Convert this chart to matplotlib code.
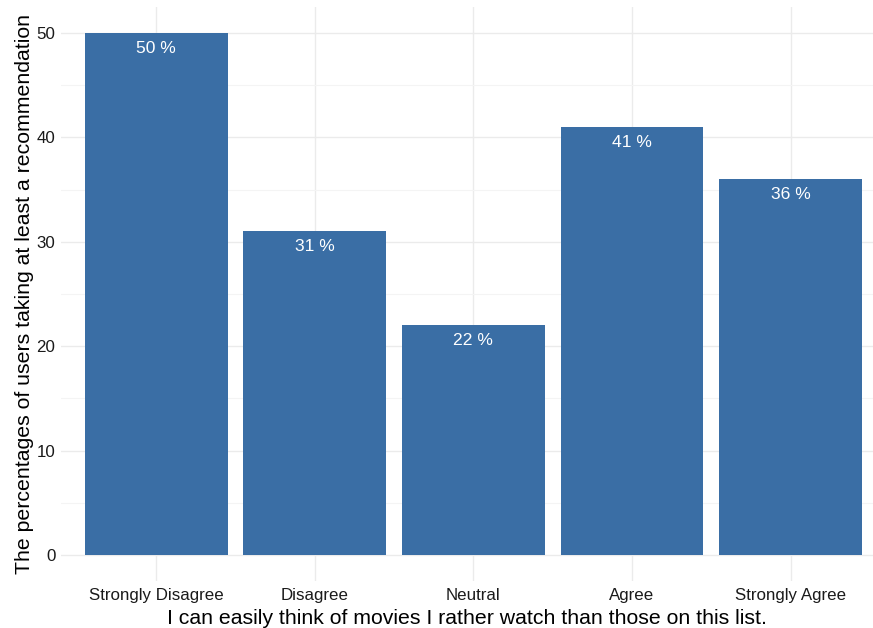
import matplotlib
matplotlib.use('Agg')
import matplotlib.pyplot as plt
from matplotlib.ticker import MultipleLocator

categories = ['Strongly Disagree', 'Disagree', 'Neutral', 'Agree', 'Strongly Agree']
percentages = [50, 31, 22, 41, 36]

bar_color = '#3A6EA5'
grid_major = '#EBEBEB'
grid_minor = '#F4F4F4'

plt.rcParams['font.family'] = ['Liberation Sans', 'DejaVu Sans']

fig = plt.figure(figsize=(8.73, 6.28), dpi=100)
ax = fig.add_axes([61 / 873, 47 / 628, 812 / 873, 574 / 628])

x = list(range(1, len(categories) + 1))
ax.bar(x, percentages, width=0.9, color=bar_color, zorder=3)

for xi, p in zip(x, percentages):
    ax.annotate('%d %%' % p, (xi, p), xytext=(0, -15), textcoords='offset pixels',
                ha='center', va='center', color='white', fontsize=12.6, zorder=4)

ax.set_xlim(0.4, 5.52)
ax.set_ylim(-2.5, 52.5)
ax.set_xticks(x)
ax.set_xticklabels(categories)
ax.yaxis.set_major_locator(MultipleLocator(10))
ax.yaxis.set_minor_locator(MultipleLocator(5))

ax.grid(which='major', color=grid_major, linewidth=1.0, zorder=0)
ax.grid(which='minor', axis='y', color=grid_minor, linewidth=0.8, zorder=0)
ax.set_axisbelow(True)

for s in ax.spines.values():
    s.set_visible(False)
ax.tick_params(which='both', length=0, labelsize=12.2, labelcolor='#1a1a1a')
ax.tick_params(axis='x', pad=5)
ax.tick_params(axis='y', pad=4)

ax.set_xlabel('I can easily think of movies I rather watch than those on this list.',
              fontsize=15.3, color='black', labelpad=4)
ax.set_ylabel('The percentages of users taking at least a recommendation',
              fontsize=15.3, color='black', labelpad=2)

fig.savefig('out.png', dpi=100)
